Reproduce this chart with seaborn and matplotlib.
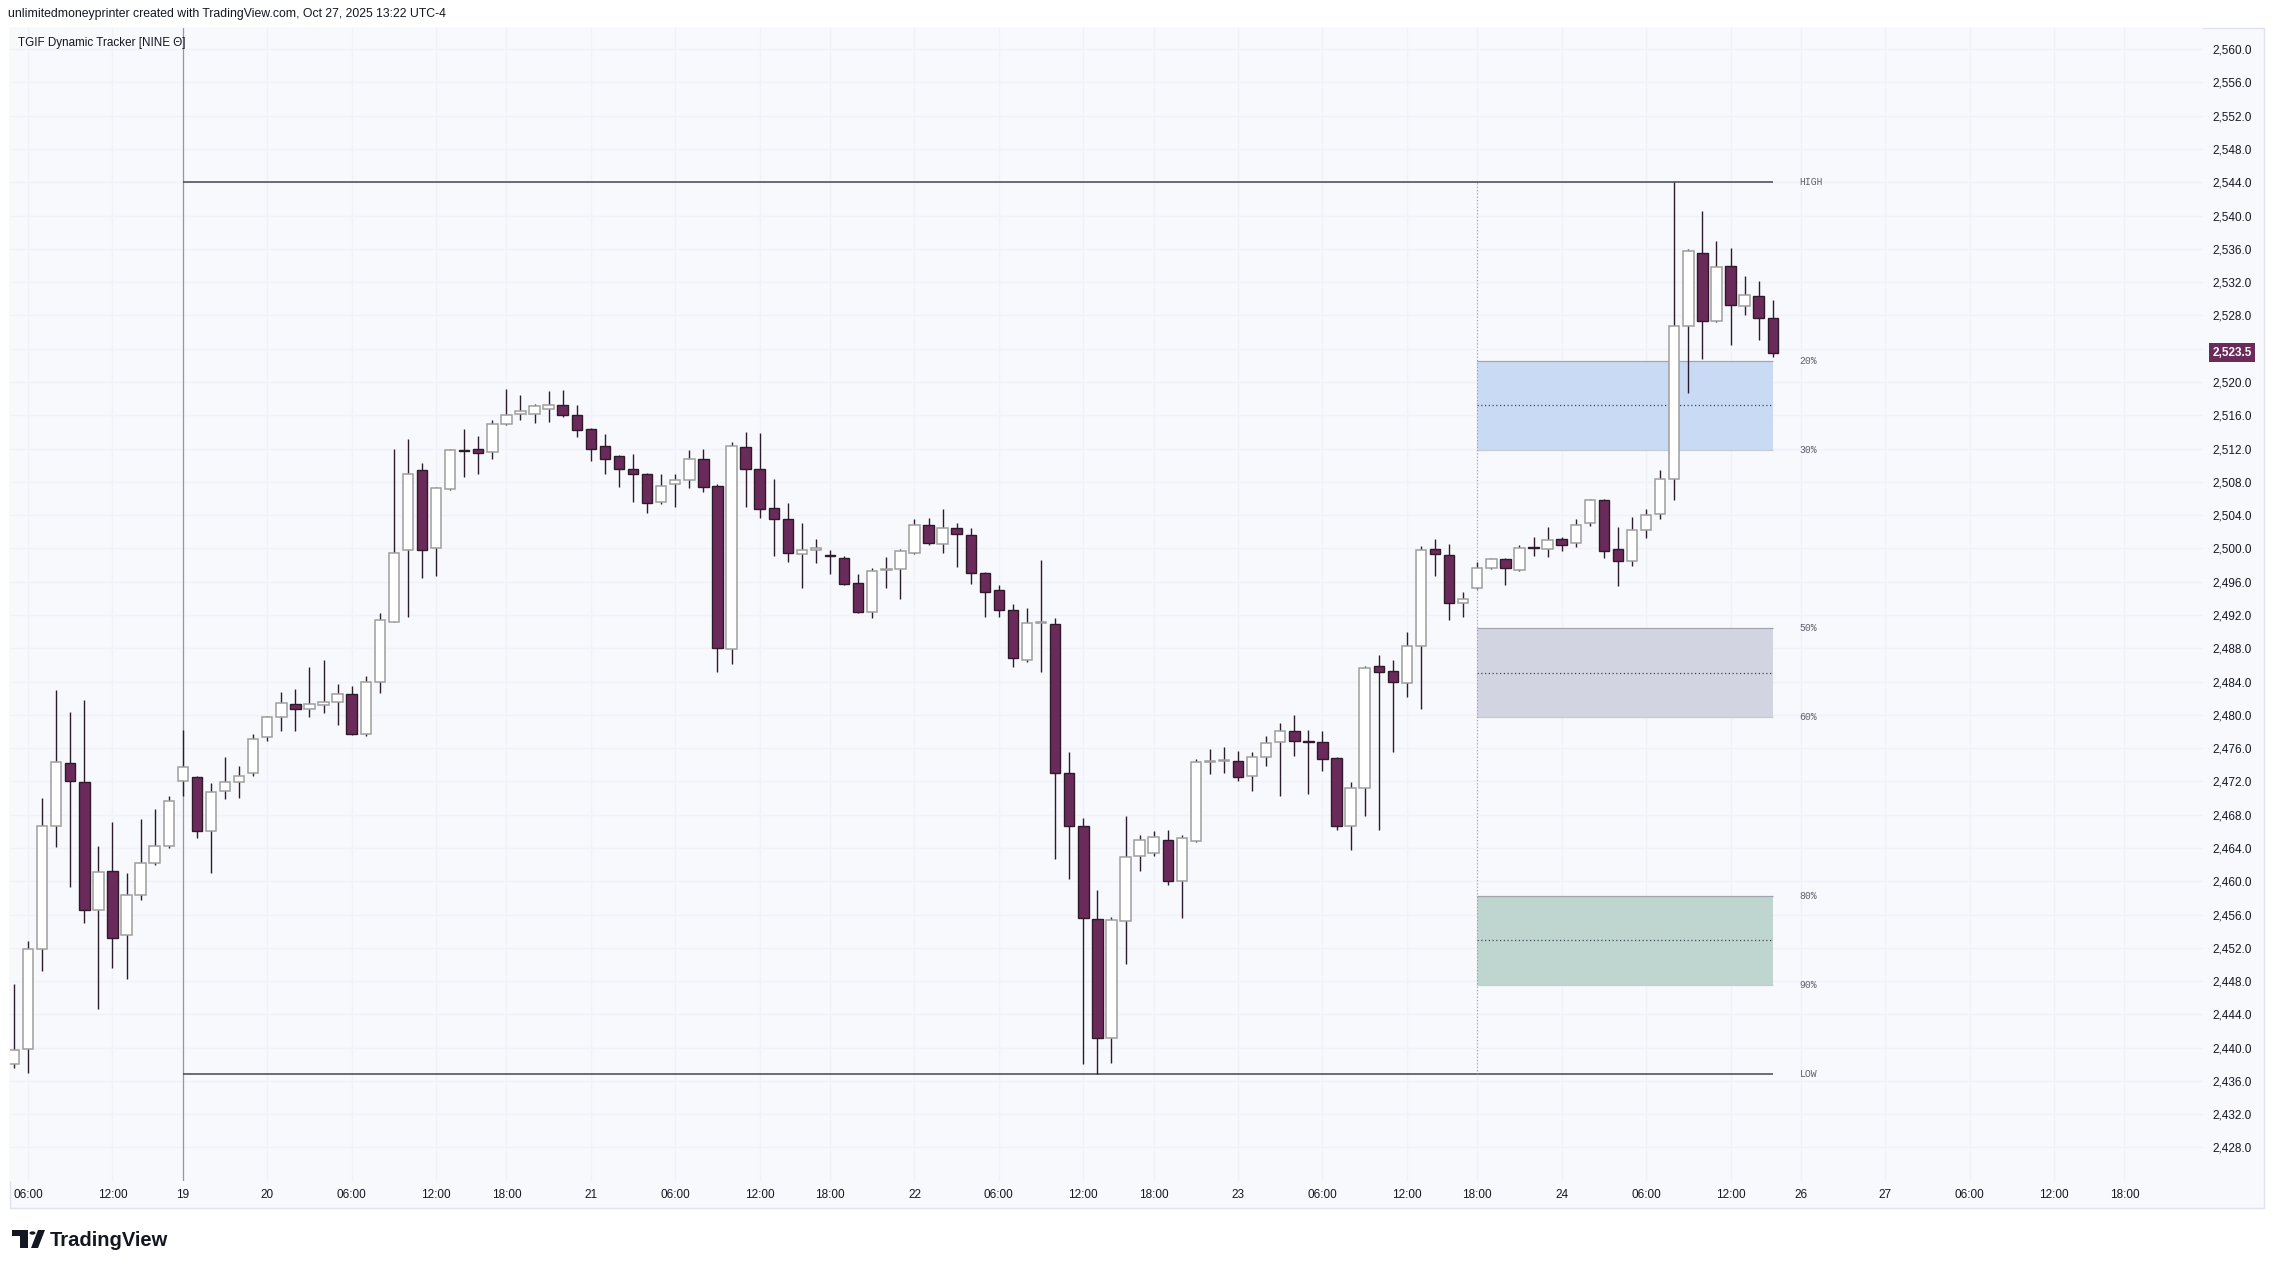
import numpy as np
import matplotlib
matplotlib.use("Agg")
import matplotlib.pyplot as plt
from matplotlib.patches import Rectangle, Polygon, Circle
import seaborn as sns

# hourly bars, Oct 17 05:00 -> Oct 24 15:00 (session gaps removed)
opens = [2438.0, 2439.8, 2451.9, 2466.6, 2474.2, 2471.9, 2456.5, 2461.2, 2453.5, 2458.4,
         2462.2, 2464.2, 2472.0, 2472.5, 2466.0, 2470.8, 2471.9, 2473.0, 2477.3, 2479.7,
         2481.3, 2480.7, 2481.2, 2481.5, 2482.5, 2477.7, 2483.9, 2491.2, 2499.8, 2509.4,
         2500.0, 2507.1, 2511.8, 2511.9, 2511.6, 2514.9, 2516.1, 2516.2, 2516.8, 2517.2,
         2516.0, 2514.4, 2512.3, 2511.1, 2509.6, 2509.0, 2505.6, 2507.7, 2508.2, 2510.7,
         2507.5, 2487.9, 2512.2, 2509.5, 2504.9, 2503.5, 2499.3, 2499.8, 2499.2, 2498.9,
         2495.8, 2492.4, 2497.4, 2497.5, 2499.4, 2502.8, 2500.5, 2502.4, 2501.6, 2497.1,
         2495.0, 2492.6, 2486.6, 2491.0, 2490.9, 2473.0, 2466.6, 2455.5, 2441.2, 2455.2,
         2463.0, 2463.4, 2464.9, 2460.0, 2464.8, 2474.3, 2474.5, 2474.5, 2472.6, 2474.9,
         2476.7, 2478.1, 2476.9, 2476.7, 2474.8, 2466.6, 2471.2, 2485.9, 2485.3, 2483.8,
         2488.3, 2499.9, 2499.2, 2493.5, 2495.2, 2497.6, 2498.7, 2497.4, 2500.1, 2499.9,
         2501.1, 2500.7, 2503.1, 2505.8, 2499.9, 2498.5, 2502.2, 2504.1, 2508.3, 2526.7,
         2535.5, 2527.3, 2533.9, 2529.1, 2530.3, 2527.7]
highs = [2447.7, 2452.8, 2470.0, 2483.0, 2480.3, 2481.8, 2464.2, 2467.1, 2461.0, 2467.5,
         2468.7, 2470.3, 2478.2, 2472.6, 2471.8, 2474.9, 2473.9, 2477.7, 2479.9, 2482.7,
         2483.1, 2485.7, 2486.6, 2483.7, 2483.5, 2484.7, 2492.2, 2512.0, 2513.2, 2510.3,
         2507.4, 2511.9, 2514.4, 2513.5, 2515.4, 2519.2, 2518.4, 2517.4, 2518.9, 2519.0,
         2517.2, 2514.5, 2513.7, 2511.2, 2511.4, 2509.1, 2509.0, 2509.0, 2511.8, 2512.0,
         2507.8, 2512.8, 2514.0, 2513.9, 2508.3, 2505.4, 2503.1, 2501.1, 2499.8, 2499.1,
         2496.9, 2497.7, 2499.0, 2499.9, 2503.5, 2503.7, 2504.7, 2503.0, 2502.4, 2497.2,
         2495.6, 2493.3, 2492.8, 2498.6, 2491.6, 2475.5, 2467.6, 2458.9, 2455.7, 2467.8,
         2465.5, 2466.0, 2466.2, 2465.5, 2474.7, 2475.9, 2476.1, 2475.7, 2475.5, 2477.5,
         2479.0, 2480.0, 2478.2, 2478.0, 2474.9, 2471.9, 2485.9, 2487.2, 2486.6, 2490.0,
         2500.3, 2501.1, 2500.5, 2494.8, 2498.4, 2498.9, 2498.8, 2500.4, 2501.4, 2502.6,
         2501.4, 2503.5, 2506.0, 2505.9, 2502.6, 2503.8, 2504.7, 2509.4, 2544.0, 2536.0,
         2540.5, 2536.9, 2536.1, 2532.7, 2532.1, 2529.9]
lows = [2437.5, 2436.9, 2449.2, 2464.1, 2459.3, 2455.0, 2444.6, 2449.6, 2448.3, 2457.7,
        2462.0, 2464.0, 2470.3, 2465.2, 2461.0, 2469.9, 2470.0, 2472.6, 2476.8, 2478.0,
        2478.0, 2479.7, 2480.2, 2478.8, 2477.6, 2477.4, 2482.6, 2491.1, 2491.8, 2496.5,
        2496.7, 2507.0, 2508.6, 2508.9, 2510.8, 2514.8, 2515.4, 2515.1, 2515.2, 2515.8,
        2513.4, 2510.5, 2509.0, 2507.4, 2505.6, 2504.3, 2505.3, 2505.0, 2507.3, 2506.8,
        2485.1, 2486.1, 2505.0, 2503.7, 2499.1, 2498.4, 2495.3, 2498.3, 2496.9, 2495.6,
        2492.2, 2491.6, 2495.3, 2493.9, 2499.3, 2500.4, 2499.4, 2497.8, 2495.7, 2491.7,
        2491.8, 2485.7, 2486.3, 2485.1, 2462.7, 2460.3, 2438.0, 2436.8, 2438.1, 2450.0,
        2461.2, 2463.0, 2459.5, 2455.6, 2464.7, 2472.9, 2473.0, 2472.1, 2470.8, 2473.8,
        2470.3, 2475.1, 2470.5, 2473.2, 2466.1, 2463.7, 2467.8, 2466.1, 2475.5, 2482.2,
        2480.7, 2496.7, 2491.4, 2491.7, 2495.1, 2497.5, 2495.6, 2497.3, 2499.1, 2499.0,
        2499.7, 2500.2, 2502.7, 2498.8, 2495.5, 2497.9, 2501.2, 2503.5, 2505.8, 2518.7,
        2522.8, 2527.2, 2524.5, 2528.0, 2525.0, 2523.0]
closes = [2439.7, 2451.8, 2466.6, 2474.3, 2472.0, 2456.5, 2461.1, 2453.2, 2458.4, 2462.2,
          2464.2, 2469.6, 2473.7, 2466.0, 2470.7, 2471.9, 2472.7, 2477.1, 2479.7, 2481.4,
          2480.7, 2481.3, 2481.5, 2482.5, 2477.7, 2483.9, 2491.4, 2499.5, 2509.0, 2499.8,
          2507.3, 2511.8, 2511.7, 2511.5, 2514.9, 2516.0, 2516.5, 2517.1, 2517.2, 2516.0,
          2514.2, 2512.0, 2510.8, 2509.6, 2508.9, 2505.5, 2507.5, 2508.2, 2510.8, 2507.4,
          2488.0, 2512.3, 2509.5, 2504.7, 2503.5, 2499.5, 2499.8, 2500.0, 2499.1, 2495.7,
          2492.3, 2497.3, 2497.5, 2499.7, 2502.8, 2500.6, 2502.5, 2501.7, 2497.0, 2494.8,
          2492.6, 2486.8, 2491.0, 2491.2, 2473.0, 2466.6, 2455.6, 2441.2, 2455.3, 2462.9,
          2464.9, 2465.3, 2460.0, 2465.2, 2474.3, 2474.5, 2474.5, 2472.5, 2474.9, 2476.6,
          2478.1, 2476.9, 2476.7, 2474.7, 2466.6, 2471.2, 2485.6, 2485.2, 2483.9, 2488.3,
          2499.8, 2499.3, 2493.4, 2493.9, 2497.7, 2498.7, 2497.6, 2500.1, 2500.0, 2501.0,
          2500.4, 2502.8, 2505.8, 2499.7, 2498.5, 2502.2, 2504.0, 2508.4, 2526.7, 2535.7,
          2527.3, 2533.8, 2529.2, 2530.4, 2527.7, 2523.5]

tick_pos = [1, 7, 12, 18, 24, 30, 35, 41, 47, 53, 58, 64, 70, 76, 81, 87, 93, 99,
            104, 110, 116, 122, 127, 133, 139, 145, 150]
tick_labels = ["06:00", "12:00", "19", "20", "06:00", "12:00", "18:00", "21", "06:00",
               "12:00", "18:00", "22", "06:00", "12:00", "18:00", "23", "06:00", "12:00",
               "18:00", "24", "06:00", "12:00", "26", "27", "06:00", "12:00", "18:00"]
price_ticks = list(range(2428, 2561, 4))

session_start = 12   # sunday open
zone_start = 104     # 18:00 oct 23
zones = [(0.2, 0.3, "#c9dbf4"), (0.5, 0.6, "#d3d4e2"), (0.8, 0.9, "#bfd5d0")]
level_names = ["HIGH", "20%", "30%", "50%", "60%", "80%", "90%", "LOW"]
level_pcts = [0.0, 0.2, 0.3, 0.5, 0.6, 0.8, 0.9, 1.0]

sns.set_style("white")
plt.rcParams['font.family'] = ['Liberation Sans', 'DejaVu Sans']

W, H = 2274, 1269
def fx(px):
    return px / W
def fy(py):
    return 1 - py / H

bg = "#f8f9fd"
txt = "#131722"
fig = plt.figure(figsize=(W / 100, H / 100), dpi=100)
fig.patch.set_facecolor("white")
fig.patches.append(Rectangle((fx(9.6), fy(1208)), fx(2264 - 9.6), (1208 - 28) / H,
                             transform=fig.transFigure, facecolor=bg, edgecolor="#e0e3eb",
                             lw=1, zorder=-5))

ax = fig.add_axes([fx(9.6), fy(1181), fx(2203 - 9.6), (1181 - 28) / H])
ax.set_zorder(2)
ax.set_facecolor(bg)
for s in ax.spines.values():
    s.set_visible(False)

o = np.array(opens); h = np.array(highs); l = np.array(lows); c = np.array(closes)
n = len(o)
x = np.arange(n)
up = c >= o
body_lo = np.minimum(o, c)
body_h = np.maximum(np.abs(c - o), 0.12)

ax.vlines(x, l, h, color="#2b1d2b", lw=1.0, zorder=3)
ax.bar(x[up], body_h[up], bottom=body_lo[up], width=0.74, color="white",
       edgecolor="#9e9e9e", lw=1.1, zorder=4)
ax.bar(x[~up], body_h[~up], bottom=body_lo[~up], width=0.74, color="#6a2a5a",
       edgecolor="#2e1a2b", lw=1.0, zorder=4)

# weekly range from sunday open
hi = h[session_start:].max()
lo = l[session_start:].min()
rng = hi - lo

ax.axvline(session_start, color="#9598a1", lw=0.9, zorder=2)
ax.hlines([hi, lo], session_start, n - 1, color="#434651", lw=1.1, zorder=2)
ax.vlines(zone_start, lo, hi, color="#9598a1", lw=0.8, linestyles=(0, (1, 2)), zorder=2)

for top, bot, col in zones:
    yt = hi - top * rng
    yb = hi - bot * rng
    ax.add_patch(Rectangle((zone_start, yb), n - 1 - zone_start, yt - yb,
                           facecolor=col, edgecolor="none", zorder=1.5))
    ax.hlines(yt, zone_start, n - 1, color="#a2a5ae", lw=0.9, zorder=1.6)
    ax.hlines(yb, zone_start, n - 1, color="#c3ccd2", lw=0.9, zorder=1.6)
    ax.hlines((yt + yb) / 2, zone_start, n - 1, color="#434651", lw=0.9,
              linestyles=(0, (1, 2)), zorder=1.6)

for name, p in zip(level_names, level_pcts):
    ax.text(n - 1 + 1.9, hi - p * rng, name, fontfamily="Liberation Mono", fontsize=7,
            color="#5d606b", va="center", ha="left", zorder=5)

ax.set_xlim(-0.31, 155.58)
ax.set_ylim(2423.97, 2562.55)
ax.set_xticks(tick_pos)
ax.set_xticklabels(tick_labels)
ax.set_yticks(price_ticks)
ax.set_yticklabels([f"{v:,.1f}" for v in price_ticks])
ax.yaxis.tick_right()
ax.tick_params(axis="x", length=0, pad=6, labelsize=8.5, labelcolor=txt)
ax.tick_params(axis="y", length=0, pad=7, labelsize=8.5, labelcolor=txt)
ax.grid(True, color="#f0f2f8", lw=1)
ax.set_axisbelow(True)

ax.text(1.0132, c[-1], f"{c[-1]:,.1f}", transform=ax.get_yaxis_transform(),
        ha="center", va="center", color="white", fontweight="bold", fontsize=8.5,
        bbox=dict(boxstyle="square,pad=0.3", fc="#6a2a5a", ec="none"),
        clip_on=False, zorder=10)

fig.text(fx(8), fy(14), "unlimitedmoneyprinter created with TradingView.com, Oct 27, 2025 13:22 UTC-4",
         fontsize=8.8, color=txt, va="center", ha="left")
fig.text(fx(18), fy(43), "TGIF Dynamic Tracker [NINE \u0398]", fontsize=8.4, color=txt,
         va="center", ha="left", zorder=5)

# tradingview logo
fig.patches.append(Polygon([(fx(12), fy(1230)), (fx(28), fy(1230)), (fx(28), fy(1248)),
                            (fx(20), fy(1248)), (fx(20), fy(1236)), (fx(12), fy(1236))],
                           closed=True, transform=fig.transFigure, fc="#131722", ec="none"))
fig.patches.append(Circle((fx(32.5), fy(1233)), 3.0 / W, transform=fig.transFigure,
                          fc="#131722", ec="none"))
fig.patches.append(Polygon([(fx(38), fy(1230)), (fx(45), fy(1230)), (fx(38), fy(1248)),
                            (fx(31), fy(1248))], closed=True, transform=fig.transFigure,
                           fc="#131722", ec="none"))
fig.text(fx(50), fy(1240), "TradingView", fontsize=14.5, fontweight="bold", color=txt,
         va="center", ha="left")

fig.savefig("out.png", dpi=100, facecolor="white")
